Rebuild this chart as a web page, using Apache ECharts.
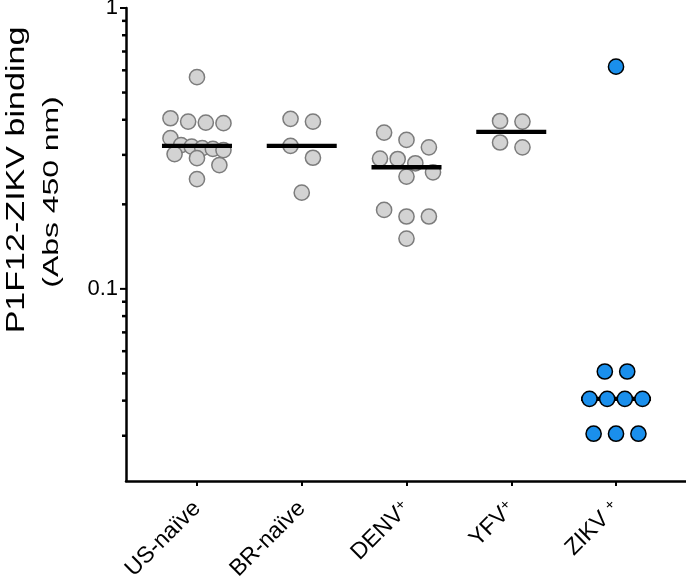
<!DOCTYPE html>
<html>
<head>
<meta charset="utf-8">
<script src="https://cdn.jsdelivr.net/npm/echarts@6/dist/echarts.min.js"></script>
<style>
html,body{margin:0;padding:0;background:#fff;}
#chart{width:686px;height:582px;}
</style>
</head>
<body>
<div id="chart"></div>
<script>
// ---- data ----
const categories = ['US-naïve', 'BR-naïve', 'DENV+', 'YFV+', 'ZIKV +'];
const usNaive = [0.567, 0.405, 0.394, 0.391, 0.389, 0.344, 0.325, 0.321, 0.317, 0.315, 0.312, 0.302, 0.292, 0.276, 0.246];
const brNaive = [0.403, 0.394, 0.323, 0.293, 0.220];
const denvPos = [0.360, 0.339, 0.319, 0.291, 0.290, 0.280, 0.260, 0.251, 0.191, 0.181, 0.181, 0.151];
const yfvPos = [0.396, 0.394, 0.332, 0.319];
const zikvPos = [0.618, 0.0508, 0.0508, 0.0406, 0.0406, 0.0406, 0.0406, 0.0305, 0.0305, 0.0305];
const medians = [0.323, 0.323, 0.271, 0.362, 0.0406];
const majorTicks = [1, 0.1];
const minorTicks = [0.9, 0.8, 0.7, 0.6, 0.5, 0.4, 0.3, 0.2, 0.09, 0.08, 0.07, 0.06, 0.05, 0.04, 0.03];
const yTitle = 'P1F12-ZIKV binding';
const ySubTitle = '(Abs 450 nm)';

const groups = [usNaive, brNaive, denvPos, yfvPos, zikvPos];
const yMin = 0.0207, yMax = 1;

// ---- styling / layout ----
const FONT = 'Liberation Sans';
const R = 7.6;
const ROW_TOL = 15, GAP = 22.4, SPAN = 53;

function swarmOffsets(ys) {
  const idx = ys.map((y, i) => i).sort((a, b) => ys[a] - ys[b]);
  const off = new Array(ys.length).fill(0);
  let i = 0;
  while (i < idx.length) {
    let j = i;
    const y0 = ys[idx[i]];
    while (j + 1 < idx.length && ys[idx[j + 1]] - y0 < ROW_TOL) j++;
    const n = j - i + 1;
    const sp = n > 1 ? Math.min(GAP, SPAN / (n - 1)) : 0;
    for (let k = 0; k < n; k++) off[idx[i + k]] = (k - (n - 1) / 2) * sp;
    i = j + 1;
  }
  return off;
}

function dotSeries(g, fill, stroke, z) {
  const vals = groups[g];
  return {
    type: 'custom',
    xAxisIndex: 1, yAxisIndex: 1,
    z: z,
    data: vals.map(v => [g, v]),
    renderItem: function (params, api) {
      const ys = vals.map(v => api.coord([g, v])[1]);
      const off = swarmOffsets(ys);
      const p = api.coord([api.value(0), api.value(1)]);
      return {
        type: 'circle',
        shape: { cx: p[0] + off[params.dataIndex], cy: p[1], r: R },
        style: { fill: fill, stroke: stroke, lineWidth: 1.5 }
      };
    }
  };
}

function tickSeries(values, len, width) {
  return {
    type: 'custom',
    xAxisIndex: 0, yAxisIndex: 0,
    z: 5,
    silent: true,
    clip: false,
    data: values.map(v => [0, v]),
    renderItem: function (params, api) {
      const p = api.coord([0, api.value(1)]);
      return {
        type: 'line',
        shape: { x1: p[0] - len, y1: p[1], x2: p[0], y2: p[1] },
        style: { stroke: '#000', lineWidth: width }
      };
    }
  };
}

const chart = echarts.init(document.getElementById('chart'), null, { renderer: 'canvas' });

const option = {
  animation: false,
  backgroundColor: '#fff',
  textStyle: { fontFamily: FONT },
  grid: [
    { left: 126, right: 0, top: 8, bottom: 101, outerBoundsMode: 'none', containLabel: false },
    { left: 144.6, right: 17.6, top: 8, bottom: 101, outerBoundsMode: 'none', containLabel: false }
  ],
  xAxis: [
    {
      type: 'value', gridIndex: 0, min: 0, max: 1,
      axisLine: { show: true, onZero: false, lineStyle: { color: '#000', width: 2.5 } },
      axisTick: { show: false }, axisLabel: { show: false }, splitLine: { show: false }
    },
    {
      type: 'category', gridIndex: 1, data: categories, boundaryGap: true,
      axisLine: { show: false },
      axisTick: { show: true, alignWithLabel: true, length: 5, lineStyle: { color: '#000', width: 2 } },
      axisLabel: {
        show: true, interval: 0, rotate: 45, margin: 24,
        align: 'right', verticalAlign: 'middle',
        color: '#000', fontSize: 23, fontFamily: FONT,
        formatter: function (v) {
          return v.replace(/\+$/, '{sup|+}');
        },
        rich: {
          sup: { fontSize: 15, verticalAlign: 'top', color: '#000', fontFamily: FONT, padding: [0, 0, 8, 0] }
        }
      },
      splitLine: { show: false }
    }
  ],
  yAxis: [
    {
      type: 'log', logBase: 10, gridIndex: 0, min: yMin, max: yMax,
      axisLine: { show: true, lineStyle: { color: '#000', width: 2.5 } },
      axisTick: { show: false },
      axisLabel: {
        show: true, color: '#000', fontSize: 22, fontFamily: FONT, margin: 8,
        showMinLabel: false,
        formatter: function (v) {
          const l = Math.log10(v);
          return Math.abs(l - Math.round(l)) < 1e-6 ? String(Math.pow(10, Math.round(l))) : '';
        }
      },
      splitLine: { show: false }, minorTick: { show: false }
    },
    {
      type: 'log', logBase: 10, gridIndex: 1, min: yMin, max: yMax, show: false
    }
  ],
  graphic: [
    {
      type: 'text', x: 17, y: 180, rotation: Math.PI / 2, scaleX: 1.31, scaleY: 1,
      style: { text: yTitle, fontSize: 26, fontFamily: FONT, fill: '#000', align: 'center', verticalAlign: 'middle' }
    },
    {
      type: 'text', x: 52, y: 192, rotation: Math.PI / 2, scaleX: 1.45, scaleY: 1,
      style: { text: ySubTitle, fontSize: 22, fontFamily: FONT, fill: '#000', align: 'center', verticalAlign: 'middle' }
    }
  ],
  series: [
    tickSeries(majorTicks, 6, 2),
    tickSeries(minorTicks, 4, 2.5),
    dotSeries(0, '#d3d3d3', '#7c7c7c', 2),
    dotSeries(1, '#d3d3d3', '#7c7c7c', 2),
    dotSeries(2, '#d3d3d3', '#7c7c7c', 2),
    dotSeries(3, '#d3d3d3', '#7c7c7c', 2),
    {
      type: 'custom', xAxisIndex: 1, yAxisIndex: 1, z: 3,
      data: medians.map((m, i) => [i, m]),
      renderItem: function (params, api) {
        const p = api.coord([api.value(0), api.value(1)]);
        return {
          type: 'line',
          shape: { x1: p[0] - 35, y1: p[1], x2: p[0] + 35, y2: p[1] },
          style: { stroke: '#000', lineWidth: 4.3 }
        };
      }
    },
    dotSeries(4, '#1a8fec', '#000', 4)
  ]
};
chart.setOption(option);
</script>
</body>
</html>
